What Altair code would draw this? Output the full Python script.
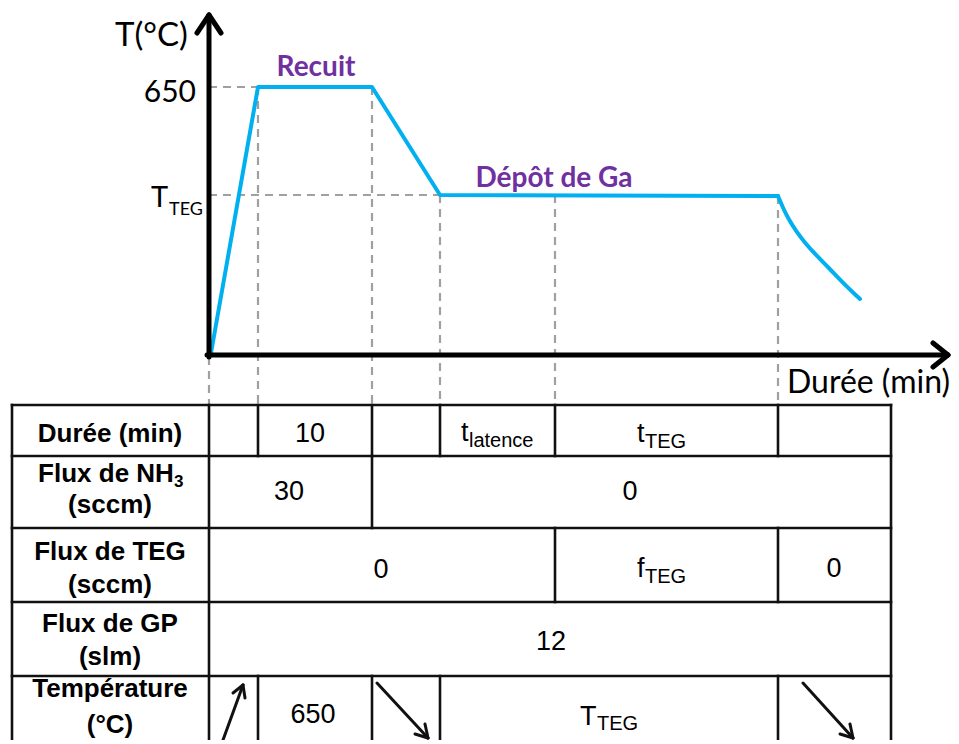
import altair as alt
import pandas as pd

# ---------------- schematic geometry (diagram units, y grows downward) ----------------
# phase boundaries on the time axis
phase_x = [209, 258, 372, 440, 555, 778, 891]
table_left = 12
row_y = [405, 456, 528, 602, 676, 746]

# temperature profile: ramp up, anneal (Recuit), ramp down, Ga deposition
profile_x = [211, 258, 372, 440, 778]
profile_y = [353, 87, 87, 195, 196]
# cooling after deposition
cool_x = [778, 783, 789, 796, 805, 816, 829, 844, 860]
cool_y = [196, 208, 220, 231, 243, 255, 268, 284, 299]

# dashed guides (x, x2, y, y2)
guide_x = [209, 209, 209, 258, 372, 440, 555, 778]
guide_x2 = [258, 440, 209, 258, 372, 440, 555, 778]
guide_y = [87, 195, 357, 87, 87, 195, 195, 196]
guide_y2 = [87, 195, 405, 405, 405, 405, 405, 405]

# table grid segments (x, x2, y, y2)
grid_x = [12, 12, 12, 12, 12, 12, 209, 891,
          258, 372, 440, 555, 778,
          372,
          555, 778,
          258, 372, 440, 778]
grid_x2 = [891, 891, 891, 891, 891, 12, 209, 891,
           258, 372, 440, 555, 778,
           372,
           555, 778,
           258, 372, 440, 778]
grid_y = [405, 456, 528, 602, 676, 405, 405, 405,
          405, 405, 405, 405, 405,
          456,
          528, 528,
          676, 676, 676, 676]
grid_y2 = [405, 456, 528, 602, 676, 746, 746, 746,
           456, 456, 456, 456, 456,
           528,
           602, 602,
           746, 746, 746, 746]

# axis arrows (x, x2, y, y2)
axis_x = [209, 209, 209, 207, 948, 948]
axis_x2 = [209, 197, 221, 946, 933, 933]
axis_y = [357, 15, 15, 355, 355, 355]
axis_y2 = [17, 33, 33, 355, 343, 367]

# trend arrows in the temperature row (x, x2, y, y2)
trend_x = [223, 243, 243, 377, 428, 428, 803, 853, 853]
trend_x2 = [243, 233, 245, 428, 425, 415, 853, 850, 840]
trend_y = [740, 685, 685, 683, 738, 738, 683, 738, 738]
trend_y2 = [685, 693, 698, 738, 724, 734, 738, 724, 734]

# ---------------- texts ----------------
axis_texts = ["T(°C)", "T", "TEG"]
axis_tx = [115, 151, 169]
axis_ty = [46, 207, 215]
axis_ts = [33, 29, 18]

right_texts = ["650", "Durée (min)"]
right_tx = [196, 950]
right_ty = [102, 393]
right_ts = [30, 32]

phase_labels = ["Recuit", "Dépôt de Ga"]
phase_lx = [316, 554]
phase_ly = [76, 187]

row_labels = ["Durée (min)", "Flux de NH", "(sccm)", "Flux de TEG", "(sccm)",
              "Flux de GP", "(slm)", "Température", "(°C)"]
row_lx = [110, 106, 110, 110, 110, 110, 110, 110, 110]
row_ly = [442, 482, 513, 560, 593, 632, 665, 697, 733]

nh3_sub = ["3"]
nh3_sub_x = [174]
nh3_sub_y = [487]

cell_values = ["10", "30", "0", "0", "0", "12", "650"]
cell_x = [310, 289, 630, 381, 834, 551, 313]
cell_y = [442, 500, 500, 578, 577, 650, 723]

sym_main = ["t", "t", "f", "T"]
sym_x = [461, 637, 637, 580]
sym_y = [441, 442, 577, 725]
sym_sub = ["latence", "TEG", "TEG", "TEG"]
sub_x = [469, 645, 645, 597]
sub_y = [447, 448, 583, 730]

# ---------------- chart ----------------
X0, Y0 = 8, 8
W, H = 943, 732
xs = alt.Scale(domain=[X0, X0 + W], nice=False, zero=False)
ys = alt.Scale(domain=[Y0, Y0 + H], nice=False, zero=False, reverse=True)


def segments(x, x2, y, y2, color, width, dash=None, cap="butt"):
    df = pd.DataFrame({"x": x, "x2": x2, "y": y, "y2": y2})
    kw = dict(color=color, strokeWidth=width, strokeCap=cap)
    if dash:
        kw["strokeDash"] = dash
    return alt.Chart(df).mark_rule(**kw).encode(
        x=alt.X("x:Q", scale=xs, axis=None),
        x2="x2:Q",
        y=alt.Y("y:Q", scale=ys, axis=None),
        y2="y2:Q",
    )


def texts(t, x, y, s, font, weight="normal", color="black", align="left"):
    if not isinstance(s, list):
        s = [s] * len(t)
    df = pd.DataFrame({"t": t, "x": x, "y": y, "s": s})
    return alt.Chart(df).mark_text(
        font=font, fontWeight=weight, color=color, align=align, baseline="alphabetic"
    ).encode(
        x=alt.X("x:Q", scale=xs, axis=None),
        y=alt.Y("y:Q", scale=ys, axis=None),
        text="t:N",
        size=alt.Size("s:Q", scale=None, legend=None),
    )


def polyline(x, y, interp="linear"):
    df = pd.DataFrame({"x": x, "y": y, "i": list(range(len(x)))})
    return alt.Chart(df).mark_line(
        color="#00B0F0", strokeWidth=4, strokeJoin="round", strokeCap="round",
        interpolate=interp
    ).encode(
        x=alt.X("x:Q", scale=xs, axis=None),
        y=alt.Y("y:Q", scale=ys, axis=None),
        order="i:Q",
    )


guides = segments(guide_x, guide_x2, guide_y, guide_y2, "#A0A0A0", 2.2, dash=[8, 6])
grid = segments(grid_x, grid_x2, grid_y, grid_y2, "#111111", 2.6, cap="square")
axes = segments(axis_x, axis_x2, axis_y, axis_y2, "black", 5, cap="round")
trends = segments(trend_x, trend_x2, trend_y, trend_y2, "#111111", 3, cap="round")

UP_FONT = "Lato"
TAB_FONT = "Liberation Sans"

layers = [
    guides,
    polyline(profile_x, profile_y),
    polyline(cool_x, cool_y, "basis"),
    axes,
    grid,
    trends,
    texts(axis_texts, axis_tx, axis_ty, axis_ts, UP_FONT),
    texts(right_texts, right_tx, right_ty, right_ts, UP_FONT, align="right"),
    texts(phase_labels, phase_lx, phase_ly, 28, UP_FONT, weight="bold",
          color="#7030A0", align="center"),
    texts(row_labels, row_lx, row_ly, 26, TAB_FONT, weight="bold", align="center"),
    texts(nh3_sub, nh3_sub_x, nh3_sub_y, 17, TAB_FONT, weight="bold"),
    texts(cell_values, cell_x, cell_y, 27, TAB_FONT, align="center"),
    texts(sym_main, sym_x, sym_y, 27, TAB_FONT),
    texts(sym_sub, sub_x, sub_y, 20, TAB_FONT),
]

chart = alt.layer(*layers).properties(
    width=W, height=H, padding=0, autosize="none"
).configure_view(stroke=None)

chart.save("out.html", embed_options={"renderer": "svg", "actions": False})
